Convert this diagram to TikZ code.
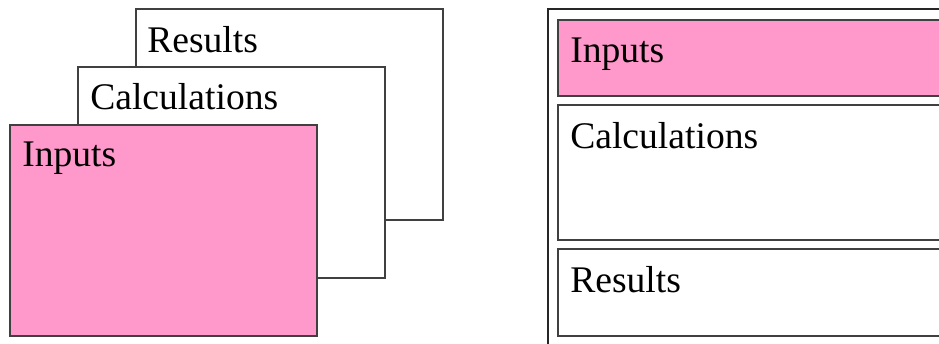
\documentclass[tikz,border=0pt]{standalone}
\usepackage{fontspec}
\setmainfont{Liberation Serif}
\usepackage{tikz}
\usetikzlibrary{positioning}

\definecolor{inpink}{HTML}{FF99CC}
\definecolor{edgegray}{HTML}{404040}

\tikzset{
	layer/.style={draw=edgegray, line width=1.2pt, fill=white, anchor=north west, inner sep=0pt, minimum width=230.25pt, minimum height=158.25pt},
	strip/.style={draw=edgegray, line width=1.2pt, fill=white, anchor=north west, inner sep=0pt, minimum width=300pt},
	tag/.style={anchor=base west, inner sep=0pt, font=\fontsize{28.2pt}{34pt}\selectfont}
}

\begin{document}
\begin{tikzpicture}[x=0.75pt, y=-0.75pt]
		\useasboundingbox (0,0) rectangle (939,343);
		\clip (0,0) rectangle (939,343);
		% stacked layers
		\node[layer] (results) at (135,8) {};
		\node[tag] (resultstag) at (147,52) {Results};
		\node[layer] (calc) at (77,66) {};
		\node[tag] (calctag) at (90,109) {Calculations};
		\node[layer, fill=inpink] (inputs) at (9,124) {};
		\node[tag] (inputstag) at (22,166) {Inputs};
		% strips in a frame
		\node[strip, draw=black!85, minimum width=320pt, minimum height=270pt] (frame) at (547,8) {};
		\node[strip, fill=inpink, minimum height=57pt] (inputsrow) at (557,19) {};
		\node[tag] (inputsrowtag) at (570,62) {Inputs};
		\node[strip, minimum height=101.25pt] (calcrow) at (557,104) {};
		\node[tag] (calcrowtag) at (570,148) {Calculations};
		\node[strip, minimum height=65.25pt] (resultsrow) at (557,248) {};
		\node[tag] (resultsrowtag) at (570,292) {Results};
	\end{tikzpicture}
\end{document}
